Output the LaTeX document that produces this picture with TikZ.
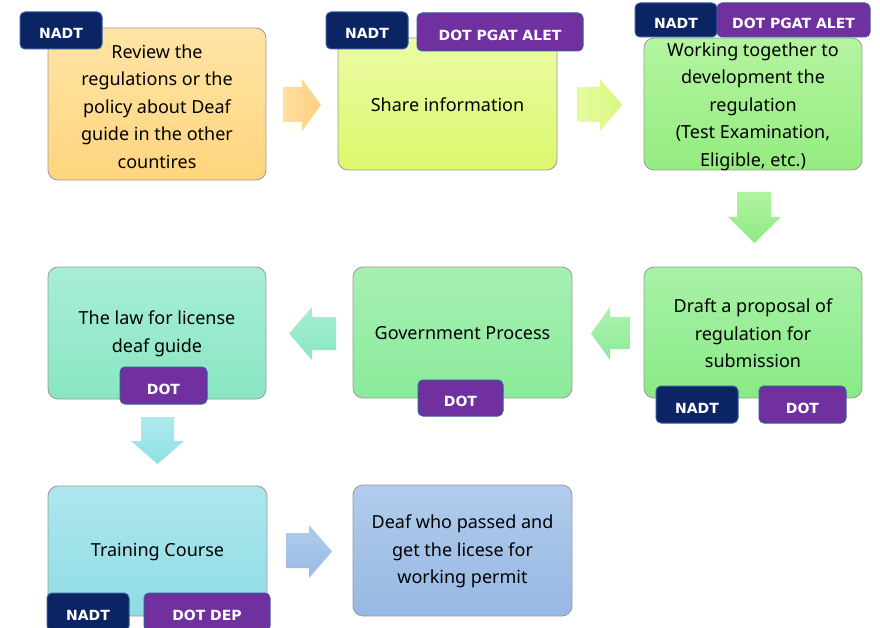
\documentclass[tikz,border=0pt]{standalone}
\usepackage{fontspec}
\setmainfont{Noto Sans}
\newfontfamily\tagfont{DejaVu Sans}[BoldFont={DejaVu Sans Bold}]
\definecolor{navy}{HTML}{0B2463}
\definecolor{purp}{HTML}{7030A0}
\definecolor{tagedge}{HTML}{3A5A9C}
\definecolor{boxedge}{HTML}{9A9A9A}
\definecolor{c1t}{HTML}{FFE4A6}\definecolor{c1b}{HTML}{FFD57E}
\definecolor{c2t}{HTML}{EBFBA6}\definecolor{c2b}{HTML}{DCF86C}
\definecolor{c3t}{HTML}{B4F4A0}\definecolor{c3b}{HTML}{94EC80}
\definecolor{c4t}{HTML}{A8F2A6}\definecolor{c4b}{HTML}{88EA86}
\definecolor{c5t}{HTML}{A6F0B2}\definecolor{c5b}{HTML}{8AEA9A}
\definecolor{c6t}{HTML}{A8EED6}\definecolor{c6b}{HTML}{88E6C2}
\definecolor{c7t}{HTML}{AEE6EE}\definecolor{c7b}{HTML}{8EDCE4}
\definecolor{c8t}{HTML}{B2CCEC}\definecolor{c8b}{HTML}{96B8E2}
\definecolor{a1l}{HTML}{FFDDA0}\definecolor{a1r}{HTML}{FFD080}
\definecolor{a2l}{HTML}{E6FBA0}\definecolor{a2r}{HTML}{D8F880}
\definecolor{a3t}{HTML}{B0F4A0}\definecolor{a3b}{HTML}{8EEA84}
\definecolor{a4t}{HTML}{AEF2B0}\definecolor{a4b}{HTML}{8CEA98}
\definecolor{a5t}{HTML}{AAEED4}\definecolor{a5b}{HTML}{88E6C0}
\definecolor{a6t}{HTML}{AEEAEE}\definecolor{a6b}{HTML}{8EE0E4}
\definecolor{a7t}{HTML}{B0CCEC}\definecolor{a7b}{HTML}{98BAE2}
\tikzset{
  stepbox/.style={draw=boxedge, line width=0.8pt, rounded corners=10pt},
  steptext/.style={align=center, font=\fontsize{18}{27.5}\selectfont, text=black, inner sep=0pt},
  tagbox/.style={draw=tagedge, line width=1pt, rounded corners=5pt, inner sep=0pt,
    text height=17pt, text depth=0pt,
    font=\tagfont\bfseries\fontsize{14}{15}\selectfont, text=white},
  navytag/.style={tagbox, fill=navy},
  purptag/.style={tagbox, fill=purp},
  blockarrow/.style={draw=none}
}
\begin{document}
\begin{tikzpicture}[x=1pt,y=-1pt]
\useasboundingbox[fill=white] (0,0) rectangle (880,628);

% ---- step boxes
\node[stepbox, minimum width=218pt, minimum height=152pt, top color=c1t, bottom color=c1b] (b1) at (157,104) {};
\node[steptext] (l1) at ([yshift=-2.5pt]b1.center) {Review the\\regulations or the\\policy about Deaf\\guide in the other\\countires};
\node[stepbox, minimum width=219pt, minimum height=132pt, top color=c2t, bottom color=c2b] (b2) at (447.5,104) {};
\node[steptext] (l2) at ([yshift=-1pt]b2.center) {Share information};
\node[stepbox, minimum width=218pt, minimum height=132pt, top color=c3t, bottom color=c3b] (b3) at (753,104) {};
\node[steptext] (l3) at ([yshift=-2.5pt]b3.center) {Working together to\\development the\\regulation\\(Test Examination,\\Eligible, etc.)};
\node[stepbox, minimum width=218pt, minimum height=131pt, top color=c4t, bottom color=c4b] (b4) at (753,332.5) {};
\node[steptext] (l4) at ([yshift=-1pt]b4.center) {Draft a proposal of\\regulation for\\submission};
\node[stepbox, minimum width=219pt, minimum height=131pt, top color=c5t, bottom color=c5b] (b5) at (462.5,332.5) {};
\node[steptext] (l5) at ([yshift=-1pt]b5.center) {Government Process};
\node[stepbox, minimum width=218pt, minimum height=132pt, top color=c6t, bottom color=c6b] (b6) at (157,333) {};
\node[steptext] (l6) at ([yshift=-1pt]b6.center) {The law for license\\deaf guide};
\node[stepbox, minimum width=219pt, minimum height=130pt, top color=c7t, bottom color=c7b] (b7) at (157.5,551) {};
\node[steptext] (l7) at ([yshift=-1pt]b7.center) {Training Course};
\node[stepbox, minimum width=219pt, minimum height=131pt, top color=c8t, bottom color=c8b] (b8) at (462.5,550.5) {};
\node[steptext] (l8) at ([yshift=-1pt]b8.center) {Deaf who passed and\\get the licese for\\working permit};

% ---- tags
\node[navytag, minimum width=82pt, minimum height=37pt] (t1) at (61,30.5) {NADT};
\node[navytag, minimum width=82pt, minimum height=37pt] (t2a) at (367,30.5) {NADT};
\node[purptag, minimum width=166pt, minimum height=38pt] (t2b) at (500,32) {DOT PGAT ALET};
\node[navytag, minimum width=82pt, minimum height=34pt] (t3a) at (676,20) {NADT};
\node[purptag, minimum width=153pt, minimum height=34pt] (t3b) at (793.5,20) {DOT PGAT ALET};
\node[navytag, minimum width=82pt, minimum height=37pt] (t4a) at (697,404.5) {NADT};
\node[purptag, minimum width=87pt, minimum height=37pt] (t4b) at (802.5,404.5) {DOT};
\node[purptag, minimum width=85pt, minimum height=36pt] (t5) at (460.5,398) {DOT};
\node[purptag, minimum width=87pt, minimum height=37pt] (t6) at (163.5,385.5) {DOT};
\node[navytag, minimum width=82pt, minimum height=38pt] (t7a) at (88,612) {NADT};
\node[purptag, minimum width=126pt, minimum height=38pt] (t7b) at (207,612) {DOT DEP};

% ---- block arrows
\path[blockarrow, left color=a1l, right color=a1r]
  (283,87) -- (302,87) -- (302,79) -- (321,105) -- (302,131) -- (302,122) -- (283,122) -- cycle;
\path[blockarrow, left color=a2l, right color=a2r]
  (577,87) -- (600,87) -- (600,79) -- (622,105) -- (600,131) -- (600,122) -- (577,122) -- cycle;
\path[blockarrow, top color=a3t, bottom color=a3b]
  (737,192) -- (771,192) -- (771,217) -- (781,217) -- (754.5,243) -- (728,217) -- (737,217) -- cycle;
\path[blockarrow, top color=a4t, bottom color=a4b]
  (630,317) -- (610,317) -- (610,307) -- (591,333.5) -- (610,360) -- (610,349) -- (630,349) -- cycle;
\path[blockarrow, top color=a5t, bottom color=a5b]
  (336,317) -- (312,317) -- (312,307) -- (289,333.5) -- (312,360) -- (312,350) -- (336,350) -- cycle;
\path[blockarrow, top color=a6t, bottom color=a6b]
  (141,417) -- (174,417) -- (174,441) -- (184,441) -- (157.5,464) -- (131,441) -- (141,441) -- cycle;
\path[blockarrow, top color=a7t, bottom color=a7b]
  (286,533) -- (309,533) -- (309,525) -- (332,551.5) -- (309,578) -- (309,568) -- (286,568) -- cycle;
\end{tikzpicture}
\end{document}
